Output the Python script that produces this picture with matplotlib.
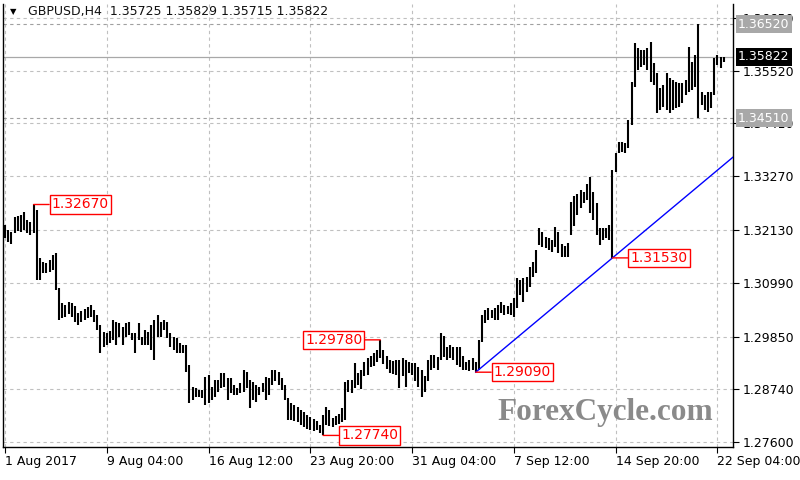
import matplotlib.pyplot as plt
import numpy as np

symbol = "GBPUSD,H4"
last_ohlc = [1.35725, 1.35829, 1.35715, 1.35822]

# H4 bars, high / low
highs = [
    1.3223, 1.3213, 1.3208, 1.3240, 1.3243, 1.3245, 1.3251, 1.3234, 1.3230, 1.3267,
    1.3255, 1.3153, 1.3144, 1.3142, 1.3148, 1.3159, 1.3163, 1.3089, 1.3056, 1.3052,
    1.3059, 1.3056, 1.3050, 1.3035, 1.3040, 1.3044, 1.3048, 1.3052, 1.3042, 1.3031,
    1.3010, 1.2995, 1.2993, 1.2997, 1.3020, 1.3016, 1.3014, 1.3005, 1.3014, 1.3016,
    1.2993, 1.2993, 1.3014, 1.2984, 1.2999, 1.2995, 1.3010, 1.3020, 1.3031, 1.3016,
    1.3020, 1.3016, 1.2993, 1.2984, 1.2982, 1.2971, 1.2967, 1.2967, 1.2924, 1.2877,
    1.2875, 1.2871, 1.2871, 1.2898, 1.2903, 1.2877, 1.2892, 1.2892, 1.2907, 1.2907,
    1.2896, 1.2896, 1.2881, 1.2875, 1.2886, 1.2914, 1.2909, 1.2892, 1.2888, 1.2881,
    1.2877, 1.2886, 1.2898, 1.2896, 1.2914, 1.2914, 1.2909, 1.2896, 1.2881, 1.2854,
    1.2843, 1.2839, 1.2835, 1.2828, 1.2824, 1.2818, 1.2813, 1.2809, 1.2805, 1.2796,
    1.2818, 1.2835, 1.2828, 1.2811, 1.2815, 1.2820, 1.2833, 1.2888, 1.2892, 1.2892,
    1.2929, 1.2907, 1.2914, 1.2931, 1.2939, 1.2944, 1.2950, 1.2956, 1.2978, 1.2956,
    1.2944, 1.2935, 1.2933, 1.2935, 1.2935, 1.2939, 1.2935, 1.2931, 1.2929, 1.2929,
    1.2920, 1.2914, 1.2901, 1.2935, 1.2946, 1.2946, 1.2941, 1.2993, 1.2986, 1.2963,
    1.2967, 1.2963, 1.2963, 1.2963, 1.2944, 1.2931, 1.2935, 1.2939, 1.2931, 1.2978,
    1.3031, 1.3042, 1.3046, 1.3042, 1.3046, 1.3052, 1.3059, 1.3052, 1.3050, 1.3056,
    1.3067, 1.3110, 1.3106, 1.3110, 1.3112, 1.3133, 1.3144, 1.3170, 1.3217, 1.3208,
    1.3197, 1.3195, 1.3191, 1.3219, 1.3208, 1.3183, 1.3178, 1.3185, 1.3272, 1.3285,
    1.3289, 1.3298, 1.3294, 1.3311, 1.3326, 1.3294, 1.3270, 1.3217, 1.3217, 1.3217,
    1.3223, 1.3341, 1.3377, 1.3400, 1.3400, 1.3398, 1.3447, 1.3529, 1.3612, 1.3601,
    1.3597, 1.3597, 1.3601, 1.3614, 1.3569, 1.3548, 1.3516, 1.3522, 1.3548, 1.3537,
    1.3533, 1.3529, 1.3526, 1.3526, 1.3533, 1.3603, 1.3571, 1.3586, 1.3652, 1.3507,
    1.3501, 1.3507, 1.3507, 1.3580, 1.3586, 1.3582, 1.35829,
]
lows = [
    1.3195, 1.3187, 1.3183, 1.3206, 1.3210, 1.3208, 1.3213, 1.3206, 1.3202, 1.3206,
    1.3106, 1.3106, 1.3121, 1.3121, 1.3123, 1.3127, 1.3084, 1.3020, 1.3025, 1.3027,
    1.3033, 1.3027, 1.3016, 1.3010, 1.3016, 1.3020, 1.3025, 1.3027, 1.3016, 1.2999,
    1.2950, 1.2963, 1.2967, 1.2971, 1.2978, 1.2967, 1.2984, 1.2967, 1.2984, 1.2988,
    1.2978, 1.2950, 1.2978, 1.2967, 1.2967, 1.2967, 1.2956, 1.2935, 1.2984, 1.2984,
    1.2999, 1.2982, 1.2963, 1.2956, 1.2950, 1.2950, 1.2950, 1.2909, 1.2843, 1.2849,
    1.2856, 1.2856, 1.2854, 1.2839, 1.2843, 1.2849, 1.2856, 1.2867, 1.2875, 1.2877,
    1.2849, 1.2864, 1.2860, 1.2860, 1.2864, 1.2867, 1.2875, 1.2833, 1.2849, 1.2845,
    1.2860, 1.2867, 1.2849, 1.2860, 1.2881, 1.2890, 1.2881, 1.2871, 1.2849, 1.2807,
    1.2807, 1.2805, 1.2803, 1.2796, 1.2792, 1.2788, 1.2785, 1.2783, 1.2785, 1.2779,
    1.2774, 1.2796, 1.2794, 1.2792, 1.2796, 1.2798, 1.2803, 1.2807, 1.2867, 1.2864,
    1.2875, 1.2881, 1.2873, 1.2901, 1.2903, 1.2920, 1.2922, 1.2931, 1.2939, 1.2926,
    1.2916, 1.2907, 1.2905, 1.2903, 1.2875, 1.2901, 1.2877, 1.2907, 1.2903, 1.2890,
    1.2877, 1.2856, 1.2867, 1.2890, 1.2914, 1.2918, 1.2914, 1.2935, 1.2941, 1.2935,
    1.2939, 1.2935, 1.2924, 1.2920, 1.2914, 1.2914, 1.2911, 1.2914, 1.2909, 1.2914,
    1.2973, 1.3014, 1.3020, 1.3025, 1.3020, 1.3020, 1.3035, 1.3031, 1.3033, 1.3031,
    1.3027, 1.3046, 1.3074, 1.3059, 1.3080, 1.3091, 1.3112, 1.3121, 1.3180, 1.3176,
    1.3174, 1.3170, 1.3165, 1.3176, 1.3163, 1.3155, 1.3155, 1.3155, 1.3202, 1.3221,
    1.3245, 1.3260, 1.3270, 1.3277, 1.3249, 1.3234, 1.3202, 1.3180, 1.3191, 1.3195,
    1.3191, 1.3153, 1.3336, 1.3377, 1.3379, 1.3377, 1.3388, 1.3437, 1.3518, 1.3554,
    1.3561, 1.3565, 1.3554, 1.3529, 1.3522, 1.3462, 1.3469, 1.3475, 1.3469, 1.3462,
    1.3469, 1.3473, 1.3475, 1.3484, 1.3501, 1.3507, 1.3512, 1.3518, 1.3451, 1.3479,
    1.3469, 1.3464, 1.3473, 1.3501, 1.3565, 1.3558, 1.35715,
]

date_ticks = [0, 32, 64, 96, 128, 160, 192, 224]
date_labels = ["1 Aug 2017", "9 Aug 04:00", "16 Aug 12:00", "23 Aug 20:00",
               "31 Aug 04:00", "7 Sep 12:00", "14 Sep 20:00", "22 Sep 04:00"]
price_ticks = [1.27600, 1.28740, 1.29850, 1.30990, 1.32130,
               1.33270, 1.34410, 1.35520, 1.36650]

# swing highs / lows that get a red label
swing_bars = [9, 118, 148, 100, 191]
swing_prices = [1.32670, 1.29780, 1.29090, 1.27740, 1.31530]
swing_side = ["right", "left", "right", "right", "right"]

levels = [1.36520, 1.34510]
trend_bars = [148, 191]
trend_prices = [1.29090, 1.31530]

fig = plt.figure(figsize=(8, 4.8), dpi=100)
ax = fig.add_axes([3 / 800, 33 / 480, 730 / 800, 443 / 480])
ax.set_xlim(-0.63, 228.9)
ax.set_ylim(1.27493, 1.3695)

x = np.arange(len(highs))
ax.vlines(x, lows, highs, color="black", linewidth=1.5, zorder=3)

# grid
ax.grid(True, color="#c0c0c0", linestyle=(0, (3, 3)), linewidth=0.8)
ax.set_axisbelow(True)

ax.yaxis.tick_right()
ax.set_yticks(price_ticks)
ax.set_yticklabels([f"{p:.5f}" for p in price_ticks])
ax.set_xticks(date_ticks)
ax.set_xticklabels(date_labels, ha="left")
ax.tick_params(axis="both", direction="out", length=4, width=0.8,
               labelsize=9, colors="black")
ax.tick_params(axis="x", pad=2)
ax.tick_params(axis="y", pad=3)
ax.spines["top"].set_visible(False)
for s in ["left", "right", "bottom"]:
    ax.spines[s].set_linewidth(1)

# horizontal levels
for lv in levels:
    ax.axhline(lv, color="#a0a0a0", linestyle=(0, (3, 3)), linewidth=0.8, zorder=2)
    ax.text(1 + 5 / 730, lv, f"{lv:.5f}", transform=ax.get_yaxis_transform(),
            color="white", fontsize=9, va="center", ha="left", zorder=6, clip_on=False,
            bbox=dict(boxstyle="square,pad=0.2", fc="#a8a8a8", ec="none"))

# current price
cur = last_ohlc[3]
ax.axhline(cur, color="#a8a8a8", linewidth=0.9, zorder=2)
ax.text(1 + 5 / 730, cur, f"{cur:.5f}", transform=ax.get_yaxis_transform(),
        color="white", fontsize=9, va="center", ha="left", zorder=6, clip_on=False,
        bbox=dict(boxstyle="square,pad=0.2", fc="black", ec="none"))

# trend line from the first anchor to the right edge
slope = (trend_prices[1] - trend_prices[0]) / (trend_bars[1] - trend_bars[0])
x_end = ax.get_xlim()[1]
ax.plot([trend_bars[0], x_end],
        [trend_prices[0], trend_prices[0] + slope * (x_end - trend_bars[0])],
        color="#0000ff", linewidth=1, zorder=4)

# swing labels
for b, p, side in zip(swing_bars, swing_prices, swing_side):
    off = 13 if side == "right" else -13
    ax.annotate(f"{p:.5f}", xy=(b, p), xytext=(off, 0), textcoords="offset points",
                ha="left" if side == "right" else "right", va="center",
                color="red", fontsize=10, zorder=5,
                bbox=dict(boxstyle="square,pad=0.15", fc="white", ec="red", lw=1),
                arrowprops=dict(arrowstyle="-", color="red", lw=1,
                                shrinkA=0, shrinkB=0))

# header
ax.text(0.0096, 0.982, "\u25bc", transform=ax.transAxes, fontsize=6,
        va="center", ha="left")
ax.text(0.034, 0.982,
        f"{symbol}  " + " ".join(f"{v:.5f}" for v in last_ohlc),
        transform=ax.transAxes, fontsize=9, va="center", ha="left", color="#101010")

# watermark
ax.text(0.825, 0.077, "ForexCycle.com", transform=ax.transAxes,
        fontsize=22.5, family="Liberation Serif", weight="bold",
        color="#8a8a8a", ha="center", va="center", zorder=1)

fig.savefig("out.png", dpi=100)
